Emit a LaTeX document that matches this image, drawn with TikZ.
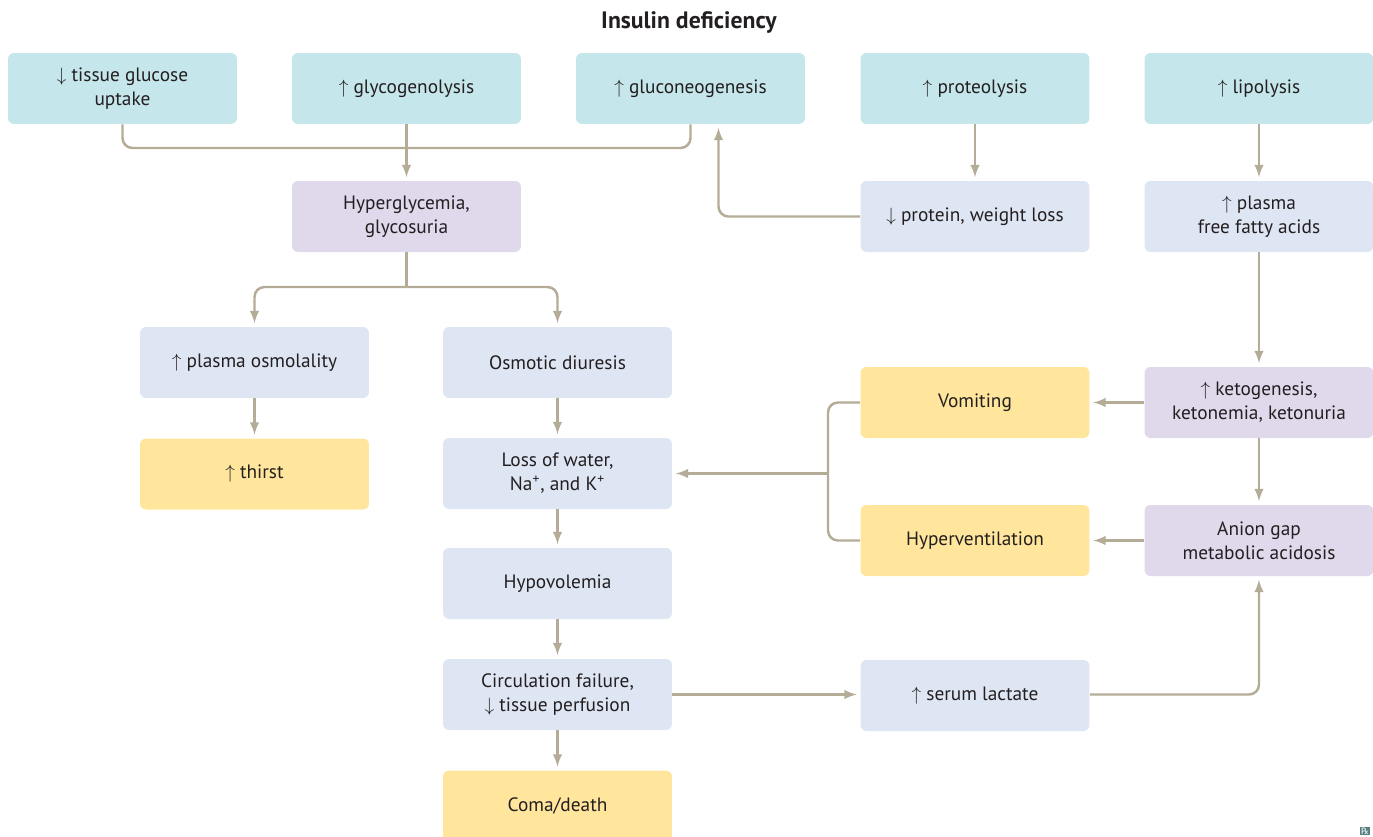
\documentclass[tikz,border=0pt]{standalone}
\usepackage{fontspec}
\setmainfont{PT Sans}
\newfontfamily\symfont{DejaVu Sans}
\usepackage{tikz}
\usetikzlibrary{arrows}
\definecolor{tealbox}{HTML}{C5E6EA}
\definecolor{lilacbox}{HTML}{E0D8EB}
\definecolor{palebox}{HTML}{DFE6F3}
\definecolor{goldbox}{HTML}{FFE69C}
\definecolor{linkgray}{HTML}{B5AC97}
\definecolor{inkdark}{HTML}{231F20}
\tikzset{
  box_node/.style = {align=center, inner sep=0pt, text centered,
    rounded corners=0.12cm, minimum width=4.58cm, minimum height=1.42cm,
    font=\fontsize{11}{13.6}\selectfont, text=inkdark},
  teal_node/.style = {box_node, fill=tealbox},% cause
  lilac_node/.style = {box_node, fill=lilacbox},% key state
  pale_node/.style = {box_node, fill=palebox},% effect
  gold_node/.style = {box_node, fill=goldbox},% symptom
  link/.style = {draw=linkgray, line width=1.4pt, rounded corners=0.2cm},
  link_arrow/.style = {link, -latex, shorten >=2pt}
}

\begin{document}
\begin{tikzpicture}[x=0.02cm, y=-0.02cm]
  \useasboundingbox (0,0) rectangle (1373,836);
  \node [font=\fontsize{13.5}{16}\selectfont\bfseries, text=inkdark] (title) at (689,22) {Insulin deficiency};
  % top row
  \node [teal_node] (tgu) at (122.5,88.5) {$\downarrow$ tissue glucose\\uptake};
  \node [teal_node] (gly) at (406.5,88.5) {$\uparrow$ glycogenolysis};
  \node [teal_node] (gng) at (690.5,88.5) {$\uparrow$ gluconeogenesis};
  \node [teal_node] (prl) at (975,88.5) {$\uparrow$ proteolysis};
  \node [teal_node] (lip) at (1259,88.5) {$\uparrow$ lipolysis};
  % second row
  \node [lilac_node] (hyp) at (406.5,216.5) {Hyperglycemia,\\glycosuria};
  \node [pale_node] (prot) at (975,216.5) {$\downarrow$ protein, weight loss};
  \node [pale_node] (ffa) at (1259,216.5) {$\uparrow$ plasma\\free fatty acids};
  % left branch
  \node [pale_node] (osm) at (254.5,362.5) {$\uparrow$ plasma osmolality};
  \node [gold_node] (thirst) at (254.5,474) {$\uparrow$ thirst};
  \node [pale_node] (diur) at (557.5,362.5) {Osmotic diuresis};
  \node [pale_node] (loss) at (557.5,473.5) {Loss of water,\\Na\textsuperscript{+}, and K\textsuperscript{+}};
  \node [pale_node] (hypo) at (557.5,583.5) {Hypovolemia};
  \node [pale_node] (circ) at (557.5,694.5) {Circulation failure,\\$\downarrow$ tissue perfusion};
  \node [gold_node] (coma) at (557.5,806) {Coma/death};
  % right branch
  \node [lilac_node] (keto) at (1259,402.5) {$\uparrow$ ketogenesis,\\ketonemia, ketonuria};
  \node [lilac_node] (anion) at (1259,540.5) {Anion gap\\metabolic acidosis};
  \node [gold_node] (vom) at (975,402.5) {Vomiting};
  \node [gold_node] (hyv) at (975,540.5) {Hyperventilation};
  \node [pale_node] (lac) at (975,695.5) {$\uparrow$ serum lactate};
  \node [fill=gray!70!teal, text=white, inner sep=0.5pt, font=\symfont\tiny] (rx) at (1365,831) {℞};

  \coordinate (gbar) at (406.5,148);
  \coordinate (hsplit) at (406.5,287);
  \coordinate (vbar) at (828,473.5);

  \draw [link] (tgu.south) |- (gbar) -| (gng.south);
  \draw [link_arrow] (gly.south) -- (hyp.north);
  \draw [link_arrow] (prl.south) -- (prot.north);
  \draw [link_arrow] (prot.west) -| ([xshift=0.56cm]gng.south);
  \draw [link_arrow] (lip.south) -- (ffa.north);
  \draw [link_arrow] (ffa.south) -- (keto.north);
  \draw [link] (hyp.south) -- (hsplit);
  \draw [link_arrow] (hsplit) -| (osm.north);
  \draw [link_arrow] (hsplit) -| (diur.north);
  \draw [link_arrow] (osm) -- (thirst);
  \draw [link_arrow] (diur) -- (loss);
  \draw [link_arrow] (loss) -- (hypo);
  \draw [link_arrow] (hypo) -- (circ);
  \draw [link_arrow] (circ) -- (coma);
  \draw [link_arrow] (keto) -- (vom);
  \draw [link_arrow] (keto) -- (anion);
  \draw [link_arrow] (anion) -- (hyv);
  \draw [link] (vom.west) -| (vbar) |- (hyv.west);
  \draw [link_arrow] (vbar) -- (loss.east);
  \draw [link_arrow] (circ.east) -- (circ.east -| lac.west);
  \draw [link_arrow] (circ.east -| lac.east) -| (anion.south);
\end{tikzpicture}
\end{document}
